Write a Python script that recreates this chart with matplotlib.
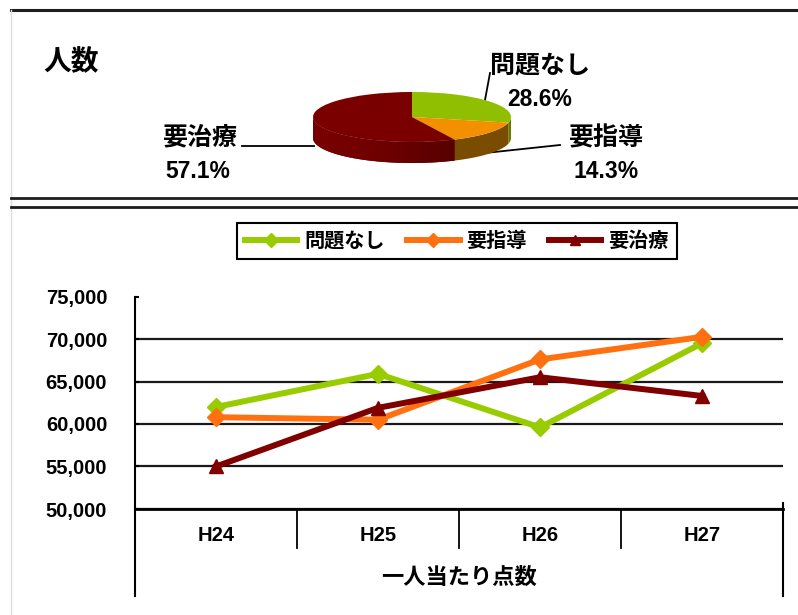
import numpy as np
import matplotlib
matplotlib.use("Agg")
import matplotlib.pyplot as plt
from matplotlib.patches import Polygon

plt.rcParams['font.family'] = ['Liberation Sans', 'Noto Sans CJK JP']

# ---------------- data ----------------
pie_labels = ["問題なし", "要指導", "要治療"]
pie_values = [28.6, 14.3, 57.1]
pie_colors = ["#8fbf00", "#f29000", "#7a0000"]
side_colors = ["#5f7f00", "#7a4c00", "#700000"]

years = ["H24", "H25", "H26", "H27"]
series_names = ["問題なし", "要指導", "要治療"]
mondai_nashi = [62000, 65900, 59600, 69500]
yo_shido = [60800, 60500, 67600, 70250]
yo_chiryo = [55000, 61900, 65500, 63300]
line_colors = ["#99cc00", "#ff7010", "#800000"]
line_markers = ["D", "D", "^"]
yticks = [50000, 55000, 60000, 65000, 70000, 75000]

W, H = 798, 615
fig = plt.figure(figsize=(W / 100, H / 100), dpi=100)


def rect(l, t, r, b):
    return [l / W, 1 - b / H, (r - l) / W, (b - t) / H]


# ---------------- background frame ----------------
bg = fig.add_axes([0, 0, 1, 1], zorder=-5)
bg.set_xlim(0, W)
bg.set_ylim(H, 0)
bg.axis("off")
bg.plot([11, W], [10, 10], color="#1e1e1e", lw=2.2)
bg.plot([11, 11], [10, H], color="#dcdcdc", lw=1)
bg.plot([11, W], [198, 198], color="#1e1e1e", lw=2)
bg.plot([11, W], [207, 207], color="#1e1e1e", lw=2)

bg.text(71, 63, "人数", fontsize=20, fontweight="bold", ha="center", va="center")

# pie labels
bold = dict(fontweight="bold", ha="center", va="center")
bg.text(540, 65, pie_labels[0], fontsize=18, **bold)
bg.text(540, 100, f"{pie_values[0]:.1f}%", fontsize=16.5, **bold)
bg.text(606, 138, pie_labels[1], fontsize=18, **bold)
bg.text(606, 171, f"{pie_values[1]:.1f}%", fontsize=16.5, **bold)
bg.text(200, 137, pie_labels[2], fontsize=18, **bold)
bg.text(198, 172, f"{pie_values[2]:.1f}%", fontsize=16.5, **bold)
bg.plot([490, 485], [73, 100], color="black", lw=1.3)
bg.plot([485, 560], [153, 145], color="black", lw=1.3)
bg.plot([242, 314], [146, 146], color="black", lw=1.3)

# ---------------- 3D-looking pie ----------------
cx, cy, rx, ry = 412, 117, 99, 25
pax = fig.add_axes(rect(cx - 1.2 * rx, cy - 1.2 * ry, cx + 1.2 * rx, cy + 2.0 * ry))
depth = 21 / ry

cum = np.concatenate([[0], np.cumsum(pie_values)]) / np.sum(pie_values)
for i in range(len(pie_values)):
    t_end = 90 - 360 * cum[i]
    t_start = 90 - 360 * cum[i + 1]
    for shift in (0, -360, 360):
        a = max(t_start + shift, -180)
        b = min(t_end + shift, 0)
        if b <= a:
            continue
        tt = np.radians(np.linspace(a, b, 80))
        top = np.column_stack([np.cos(tt), np.sin(tt)])
        bot = np.column_stack([np.cos(tt), np.sin(tt) - depth])[::-1]
        poly = Polygon(np.vstack([top, bot]), closed=True,
                       facecolor=side_colors[i], edgecolor="none", zorder=0.5)
        pax.add_patch(poly)
        if i == 2:
            # horizontal shading gradient, lighter left, darker right
            gx = np.linspace(-1, 1, 200)
            f = ((gx + 1) / 2) ** 1.6
            rr = 0.47 - 0.22 * f
            img = np.zeros((2, 200, 3))
            img[:, :, 0] = rr
            im = pax.imshow(img, extent=(-1, 1, -1 - depth, 0), aspect="auto",
                            origin="lower", zorder=0.6, interpolation="bilinear")
            im.set_clip_path(poly)

pax.pie(pie_values, colors=pie_colors, startangle=90, counterclock=False,
        radius=1, wedgeprops=dict(linewidth=0))
pax.set_aspect("auto")
pax.set_xlim(-1.2, 1.2)
pax.set_ylim(-2.0, 1.2)
pax.axis("off")

# ---------------- line chart ----------------
ax = fig.add_axes(rect(135, 296.5, 783, 509))
x = np.arange(len(years))
series = [mondai_nashi, yo_shido, yo_chiryo]
handles = []
for vals, name, col, mk in zip(series, series_names, line_colors, line_markers):
    ms = 9 if mk == "D" else 10
    h, = ax.plot(x, vals, color=col, lw=4.3, marker=mk, ms=ms, label=name,
                 clip_on=False, zorder=3)
    handles.append(h)

ax.set_xlim(-0.5, len(years) - 0.5)
ax.set_ylim(yticks[0], yticks[-1])
ax.set_yticks(yticks)
ax.set_yticklabels([f"{v:,}" for v in yticks], fontsize=14.5, fontweight="bold")
ax.set_xticks([])
ax.tick_params(axis="y", direction="in", length=3, width=1.5, pad=20)
ax.yaxis.grid(True, color="#1a1a1a", lw=1.6)
ax.yaxis.get_gridlines()[-1].set_visible(False)
ax.set_axisbelow(True)
for s in ("top", "right"):
    ax.spines[s].set_visible(False)
ax.spines["left"].set_linewidth(1.5)
ax.spines["bottom"].set_linewidth(2)

trans = ax.get_xaxis_transform()
ax.plot([0, 0], [0, -0.409], transform=ax.transAxes, color="black", lw=1.5, clip_on=False)
ax.plot([1, 1], [0.03, -0.409], transform=ax.transAxes, color="black", lw=1.5, clip_on=False)
for sep in np.arange(0.5, len(years) - 1, 1.0):
    ax.plot([sep, sep], [0, -0.1835], transform=trans, color="black", lw=1.3, clip_on=False)
for xi, lab in zip(x, years):
    ax.text(xi, -0.127, lab, transform=trans, fontsize=14.5, fontweight="bold",
            ha="center", va="center")
ax.text(0.5, -0.325, "一人当たり点数", transform=ax.transAxes, fontsize=16,
        fontweight="bold", ha="center", va="center")

leg = ax.legend(handles=handles, loc="center", bbox_to_anchor=(457 / W, 1 - 241 / H),
                bbox_transform=fig.transFigure, ncol=3, frameon=True, fancybox=False,
                edgecolor="black", framealpha=1, prop=dict(size=14.5, weight="bold"),
                handlelength=2.6, handletextpad=0.35, columnspacing=1.1, borderpad=0.4,
                borderaxespad=0, markerscale=0.75)
leg.get_frame().set_linewidth(1.5)

fig.savefig("out.png", dpi=100)
